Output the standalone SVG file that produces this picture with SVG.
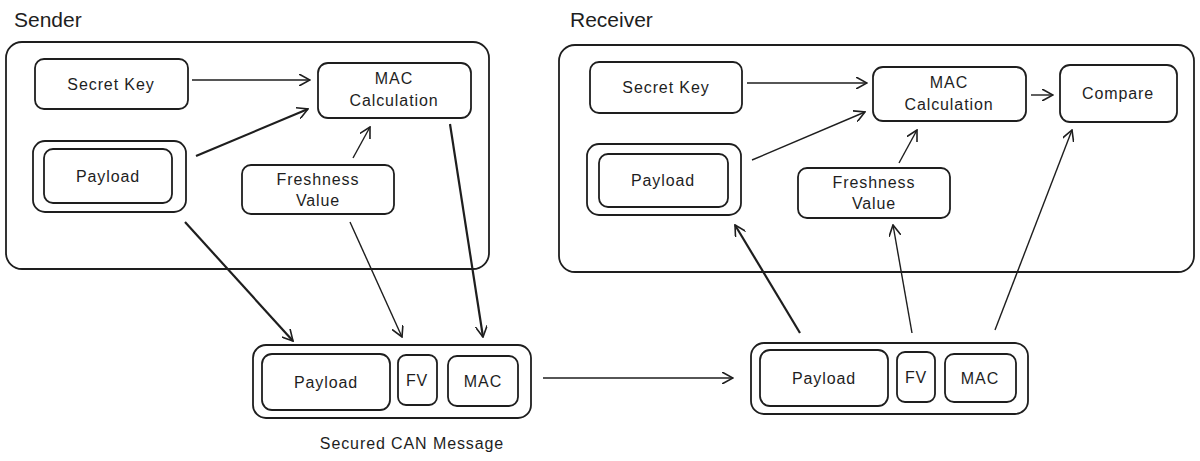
<svg xmlns="http://www.w3.org/2000/svg" width="1200" height="461" viewBox="0 0 1200 461">
<style>
.box{fill:#fff;stroke:#1e1e1e;stroke-width:1.8}
.t{font-family:"Liberation Sans",Arial,sans-serif;font-size:16px;letter-spacing:0.9px;fill:#1e1e1e;text-anchor:middle}
.title{font-family:"Liberation Sans",Arial,sans-serif;font-size:21px;fill:#1e1e1e}
.c{fill:none;stroke:#1e1e1e;stroke-width:1.4;marker-end:url(#ah)}
.cb{fill:none;stroke:#1e1e1e;stroke-width:2.2;marker-end:url(#ah)}
</style>
<defs>
<marker id="ah" viewBox="0 0 12 12" refX="11" refY="6" markerWidth="12" markerHeight="12" markerUnits="userSpaceOnUse" orient="auto">
<path d="M0,0 L11,6 L0,12" fill="none" stroke="#1e1e1e" stroke-width="1.6"/>
</marker>
</defs>
<rect width="1200" height="461" fill="#fff"/>

<g id="sender">
<text class="title" x="14" y="27">Sender</text>
<rect class="box" x="6" y="42" width="483" height="227" rx="16"/>
</g>
<g id="s-secret">
<rect class="box" x="35" y="59" width="153" height="50" rx="9"/>
<text class="t" x="111" y="90">Secret Key</text>
</g>
<g id="s-mac">
<rect class="box" x="318" y="63" width="153" height="55" rx="10"/>
<text class="t" x="394" y="84">MAC</text>
<text class="t" x="394" y="106">Calculation</text>
</g>
<g id="s-payload">
<rect class="box" x="33" y="141" width="153" height="71" rx="12"/>
<rect class="box" x="44" y="149" width="128" height="54" rx="9"/>
<text class="t" x="108" y="182">Payload</text>
</g>
<g id="s-fresh">
<rect class="box" x="242" y="165" width="152" height="49" rx="9"/>
<text class="t" x="318" y="185">Freshness</text>
<text class="t" x="318" y="206">Value</text>
</g>

<g id="s-msg">
<rect class="box" x="253" y="345" width="278" height="73" rx="13"/>
<rect class="box" x="262" y="354" width="128" height="56" rx="10"/>
<text class="t" x="326" y="388">Payload</text>
<rect class="box" x="398" y="355" width="39" height="50" rx="8"/>
<text class="t" x="417" y="386">FV</text>
<rect class="box" x="448" y="356" width="70" height="50" rx="9"/>
<text class="t" x="483" y="387">MAC</text>
<text class="t" x="412" y="449">Secured CAN Message</text>
</g>

<g id="receiver">
<text class="title" x="570" y="27">Receiver</text>
<rect class="box" x="559" y="45" width="635" height="227" rx="16"/>
</g>
<g id="r-secret">
<rect class="box" x="590" y="62" width="152" height="51" rx="9"/>
<text class="t" x="666" y="93">Secret Key</text>
</g>
<g id="r-mac">
<rect class="box" x="873" y="67" width="153" height="54" rx="10"/>
<text class="t" x="949" y="88">MAC</text>
<text class="t" x="949" y="110">Calculation</text>
</g>
<g id="r-compare">
<rect class="box" x="1060" y="65" width="117" height="57" rx="10"/>
<text class="t" x="1118" y="99">Compare</text>
</g>
<g id="r-payload">
<rect class="box" x="587" y="144" width="154" height="71" rx="12"/>
<rect class="box" x="599" y="154" width="129" height="53" rx="9"/>
<text class="t" x="663" y="186">Payload</text>
</g>
<g id="r-fresh">
<rect class="box" x="798" y="168" width="152" height="50" rx="9"/>
<text class="t" x="874" y="188">Freshness</text>
<text class="t" x="874" y="209">Value</text>
</g>

<g id="r-msg">
<rect class="box" x="751" y="343" width="277" height="71" rx="13"/>
<rect class="box" x="760" y="350" width="128" height="56" rx="10"/>
<text class="t" x="824" y="384">Payload</text>
<rect class="box" x="897" y="352" width="38" height="50" rx="8"/>
<text class="t" x="916" y="383">FV</text>
<rect class="box" x="945" y="354" width="71" height="48" rx="9"/>
<text class="t" x="980" y="384">MAC</text>
</g>

<g id="connectors">
<path class="c" d="M192,80 L310,80"/>
<path class="cb" d="M196,156 L308,109"/>
<path class="c" d="M353,158 L370,127"/>
<path class="cb" d="M185,222 L293,341"/>
<path class="c" d="M350,222 L402,337"/>
<path class="cb" d="M450,124 L483,337"/>
<path class="c" d="M543,378 L733,378"/>
<path class="c" d="M747,83 L867,83"/>
<path class="c" d="M752,160 L865,112"/>
<path class="c" d="M899,163 L917,130"/>
<path class="c" d="M1031,95 L1053,95"/>
<path class="cb" d="M800,333 L735,225"/>
<path class="c" d="M912,333 L893,225"/>
<path class="c" d="M995,330 L1072,130"/>
</g>
</svg>
